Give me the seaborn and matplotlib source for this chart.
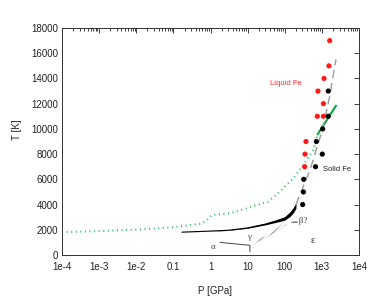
import numpy as np
import pandas as pd
import matplotlib
matplotlib.use("Agg")
import matplotlib.pyplot as plt
import seaborn as sns
from matplotlib.ticker import LogLocator, NullFormatter, FixedLocator

sns.set_theme(style="white")
plt.rcParams['font.family'] = ['Liberation Sans', 'DejaVu Sans']

# ---- data ----
liquid_P = [1625, 1550, 1140, 787, 1100, 753, 1100, 373, 351, 344]
liquid_T = [17000, 15000, 14000, 13000, 12000, 11000, 11000, 9000, 8000, 7000]

solid_P = [1490, 1490, 1050, 710, 1025, 675, 324, 318, 304]
solid_T = [13000, 11000, 10000, 9000, 8000, 7000, 6000, 5000, 4000]

green_dot_P = [1e-4, 1e-3, 1e-2, 0.1, 0.58, 0.8, 1.1, 3.3, 9.4, 17.6, 36, 74, 170, 317, 590, 770]
green_dot_T = [1810, 1900, 2010, 2200, 2480, 2780, 3170, 3310, 3700, 3960, 4230, 5020, 6080, 7140, 8330, 9570]

green_solid_P = [770, 2400]
green_solid_T = [9570, 11840]

melt_P = [0.17, 1, 3, 10, 30, 60, 100, 140, 170, 200]
melt_T = [1810, 1900, 1960, 2150, 2450, 2700, 2900, 3250, 3550, 3900]
melt_halfwidth = [0, 5, 15, 30, 60, 100, 140, 180, 200, 200]

dash_P = [200, 480, 1050, 1600, 2400]
dash_T = [4000, 6740, 10000, 12500, 15500]

ge_P = [13, 30, 60, 91, 110]
ge_low = [760, 1350, 1850, 2230, 2400]
ge_high = [930, 1550, 2100, 2520, 2650]

alpha_P = [1.8, 11.5, 11.5]
alpha_T = [1000, 770, 260]

beta_P = [150, 210]
beta_T = [2600, 2600]

xticks = [1e-4, 1e-3, 1e-2, 0.1, 1, 10, 100, 1e3, 1e4]
xticklabels = ['1e-4', '1e-3', '1e-2', '0.1', '1', '10', '100', '1e3', '1e4']
yticks = list(range(0, 18001, 2000))

# ---- figure ----
fig = plt.figure(figsize=(3.9, 3.02), dpi=100)
ax = fig.add_axes([0.159, 0.1556, 0.7615, 0.7517])
ax.set_xscale('log')

green = '#2cc16a'

sns.lineplot(x=green_dot_P, y=green_dot_T, ax=ax, color=green, lw=1.5,
             linestyle=(0, (0.5, 1.7)), sort=False, estimator=None)
sns.lineplot(x=green_solid_P, y=green_solid_T, ax=ax, color='#13a84a', lw=1.6,
             sort=False, estimator=None)

mp = np.array(melt_P); mt = np.array(melt_T); mh = np.array(melt_halfwidth)
ax.fill_between(mp, mt - mh, mt + mh, color='black', lw=0)
sns.lineplot(x=melt_P, y=melt_T, ax=ax, color='black', lw=0.8, sort=False, estimator=None)

sns.lineplot(x=dash_P, y=dash_T, ax=ax, color='#9a9a9a', lw=1.0,
             linestyle=(0, (6, 3.5)), sort=False, estimator=None)

ax.fill_between(ge_P, ge_low, ge_high, facecolor='none', edgecolor='#aaaaaa',
                hatch='//////', lw=0)
sns.lineplot(x=ge_P, y=ge_low, ax=ax, color='#bbbbbb', lw=0.5, linestyle=':',
             sort=False, estimator=None)
sns.lineplot(x=alpha_P, y=alpha_T, ax=ax, color='#444444', lw=0.7,
             sort=False, estimator=None)
sns.lineplot(x=beta_P, y=beta_T, ax=ax, color='#666666', lw=0.6,
             sort=False, estimator=None)

sns.scatterplot(x=liquid_P, y=liquid_T, ax=ax, color='#ff1a1a', s=14,
                edgecolor='none', zorder=5)
sns.scatterplot(x=solid_P, y=solid_T, ax=ax, color='black', s=14,
                edgecolor='none', zorder=5)

ax.text(40, 13600, 'Liquid Fe', color='#ff2a2a', fontsize=5.5, va='center')
ax.text(1100, 6800, 'Solid Fe', color='#222222', fontsize=5.5, va='center')
serif = ['Liberation Serif', 'DejaVu Serif']
ax.text(1.19, 660, 'α', fontsize=6.5, family=serif, color='#444444', ha='center', va='center')
ax.text(11.1, 1400, 'γ', fontsize=6.5, family=serif, color='#444444', ha='center', va='center')
ax.text(250, 2700, '– β?', fontsize=6.5, family=serif, color='#444444', ha='center', va='center')
ax.text(565, 1190, 'ε', fontsize=8, family=serif, color='#333333', ha='center', va='center')

ax.set_xlim(1e-4, 1e4)
ax.set_ylim(0, 18000)
ax.xaxis.set_major_locator(FixedLocator(xticks))
ax.set_xticklabels(xticklabels)
ax.xaxis.set_minor_locator(LogLocator(base=10, subs=np.arange(2, 10), numticks=20))
ax.xaxis.set_minor_formatter(NullFormatter())
ax.set_yticks(yticks)
ax.set_yticklabels([str(v) for v in yticks])

ax.tick_params(axis='both', which='both', direction='in', top=True, right=True,
               labelsize=7, colors='#222222', width=0.6)
ax.tick_params(axis='both', which='major', length=3.5)
ax.tick_params(axis='x', which='major', pad=5)
ax.tick_params(axis='y', which='major', pad=3)
ax.tick_params(axis='x', which='minor', length=1.8)
for s in ax.spines.values():
    s.set_color('#333333')
    s.set_linewidth(0.7)

ax.set_xlabel('P [GPa]', fontsize=7, color='#222222')
ax.set_ylabel('T [K]', fontsize=7, color='#222222')
ax.xaxis.set_label_coords(0.515, -0.137)
ax.yaxis.set_label_coords(-0.135, 0.55)

fig.savefig('out.png', dpi=100)
